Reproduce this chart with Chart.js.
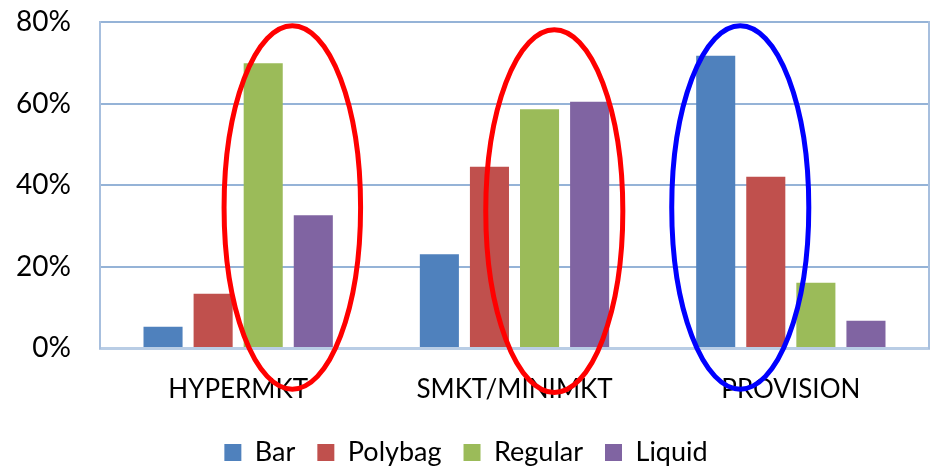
<!DOCTYPE html>
<html>
<head>
<meta charset="utf-8">
<script src="https://cdn.jsdelivr.net/npm/chart.js@4/dist/chart.umd.min.js"></script>
<style>
  html, body { margin: 0; padding: 0; background: #fff; }
  #wrap { width: 932px; height: 468px; }
</style>
</head>
<body>
<div id="wrap"><canvas id="c" width="932" height="468"></canvas></div>
<script>
// ---- data ----
const categories = ['HYPERMKT', 'SMKT/MINIMKT', 'PROVISION'];
const seriesNames = ['Bar', 'Polybag', 'Regular', 'Liquid'];
const barValues = [5.2, 23.0, 71.7];
const polybagValues = [13.3, 44.5, 42.0];
const regularValues = [69.9, 58.6, 16.0];
const liquidValues = [32.6, 60.4, 6.7];
const yTicks = [0, 20, 40, 60, 80];

// highlight ellipses (in axis units: category index / percent)
const ellipseCX = [0.196, 1.144, 1.817];
const ellipseCY = [34.5, 33.6, 34.5];
const ellipseRX = [0.247, 0.248, 0.248];
const ellipseRY = [44.6, 44.5, 44.6];
const ellipseColors = ['#FF0000', '#FF0000', '#0000FF'];

const seriesColors = ['#4F81BD', '#C0504D', '#9BBB59', '#8064A2'];
const seriesData = [barValues, polybagValues, regularValues, liquidValues];

const FONT = 'Lato, "Open Sans", sans-serif';
const GRID = '#95B3D7';

const ellipsePlugin = {
  id: 'ellipses',
  afterDraw(chart) {
    const { ctx, scales } = chart;
    const xs = scales.x, ys = scales.y;
    ctx.save();
    ctx.lineWidth = 5;
    for (let i = 0; i < ellipseCX.length; i++) {
      const cx = xs.getPixelForValue(ellipseCX[i]);
      const rx = Math.abs(xs.getPixelForValue(ellipseCX[i] + ellipseRX[i]) - cx);
      const cy = ys.getPixelForValue(ellipseCY[i]);
      const ry = Math.abs(ys.getPixelForValue(ellipseCY[i] + ellipseRY[i]) - cy);
      ctx.beginPath();
      ctx.strokeStyle = ellipseColors[i];
      ctx.ellipse(cx, cy, rx, ry, 0, 0, Math.PI * 2);
      ctx.stroke();
    }
    ctx.restore();
  }
};

new Chart(document.getElementById('c'), {
  type: 'bar',
  data: {
    labels: categories,
    datasets: seriesNames.map((name, i) => ({
      label: name,
      data: seriesData[i],
      backgroundColor: seriesColors[i],
      borderWidth: 0,
      barPercentage: 0.78,
      categoryPercentage: 0.725
    }))
  },
  options: {
    responsive: false,
    animation: false,
    devicePixelRatio: 1,
    layout: { padding: { left: 0, right: 0, top: 22, bottom: -8 } },
    plugins: {
      legend: {
        position: 'bottom',
        labels: {
          boxWidth: 17,
          boxHeight: 17,
          padding: 22,
          color: '#000',
          font: { family: FONT, size: 27 }
        }
      },
      tooltip: { enabled: false }
    },
    scales: {
      x: {
        grid: { display: false, drawTicks: false },
        border: { display: true, color: '#B9CDE5', width: 3 },
        ticks: { color: '#000', padding: 26, font: { family: FONT, size: 26 }, maxRotation: 0 },
        afterFit(s) { s.height = 69; s.paddingLeft = 0; s.paddingRight = 0; }
      },
      y: {
        min: 0,
        max: 80,
        afterBuildTicks(s) { s.ticks = yTicks.map(v => ({ value: v })); },
        grid: { color: GRID, lineWidth: 2, drawTicks: false },
        border: { display: true, color: '#A7BFDE', width: 2 },
        ticks: {
          color: '#000',
          padding: 29,
          font: { family: FONT, size: 28 },
          callback: v => v + '%'
        },
        afterFit(s) { s.width = 100; s.paddingTop = 0; s.paddingBottom = 0; }
      },
      y2: {
        position: 'right',
        min: 0,
        max: 80,
        grid: { drawOnChartArea: false, drawTicks: false },
        border: { display: true, color: '#A7BFDE', width: 2 },
        ticks: { display: false },
        afterFit(s) { s.width = 3; s.paddingTop = 0; s.paddingBottom = 0; }
      }
    }
  },
  plugins: [ellipsePlugin]
});
</script>
</body>
</html>
